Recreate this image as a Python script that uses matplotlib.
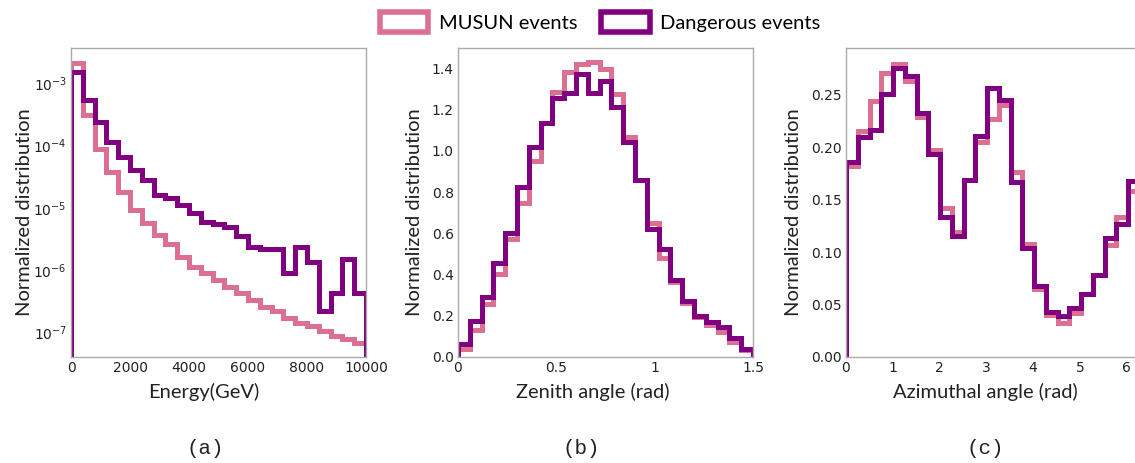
import numpy as np
import matplotlib
matplotlib.use("Agg")
import matplotlib.pyplot as plt
from matplotlib.patches import Patch

PINK = "#DB7093"
PURPLE = "#800080"

# (a) energy, 25 bins of 400 GeV
energy_edges = np.linspace(0, 10000, 26)
energy_musun = [2.1e-3, 3.1e-4, 9.0e-5, 3.8e-5, 1.83e-5, 9.3e-6, 5.7e-6, 3.7e-6,
                2.6e-6, 1.66e-6, 1.15e-6, 8.9e-7, 7.0e-7, 5.5e-7, 4.3e-7, 3.3e-7,
                2.6e-7, 2.2e-7, 1.7e-7, 1.45e-7, 1.26e-7, 1.05e-7, 8.7e-8, 7.9e-8, 6.8e-8]
energy_danger = [1.5e-3, 5.4e-4, 2.4e-4, 1.16e-4, 6.7e-5, 4.1e-5, 2.8e-5, 1.6e-5,
                 1.43e-5, 1.12e-5, 8.2e-6, 6.0e-6, 5.5e-6, 5.0e-6, 3.5e-6, 2.4e-6,
                 2.2e-6, 2.2e-6, 9.2e-7, 2.4e-6, 1.38e-6, 2.25e-7, 4.4e-7, 1.5e-6, 4.3e-7]

# (b) zenith angle, 25 bins over 0-1.5 rad
zenith_edges = np.linspace(0, 1.5, 26)
zenith_musun = [0.04, 0.13, 0.255, 0.405, 0.575, 0.75, 0.95, 1.135, 1.285, 1.385,
                1.42, 1.43, 1.40, 1.275, 1.07, 0.86, 0.65, 0.48, 0.365, 0.26,
                0.195, 0.155, 0.12, 0.075, 0.033]
zenith_danger = [0.065, 0.175, 0.29, 0.455, 0.60, 0.825, 1.02, 1.135, 1.257, 1.28,
                 1.375, 1.28, 1.34, 1.215, 1.045, 0.86, 0.62, 0.525, 0.375, 0.27,
                 0.20, 0.17, 0.145, 0.09, 0.04]

# (c) azimuthal angle, 25 bins over 0-2pi
azim_edges = np.linspace(0, 2 * np.pi, 26)
azim_musun = [0.182, 0.215, 0.244, 0.271, 0.279, 0.263, 0.229, 0.197, 0.142, 0.119,
              0.169, 0.205, 0.227, 0.240, 0.176, 0.108, 0.065, 0.040, 0.032, 0.042,
              0.060, 0.078, 0.107, 0.133, 0.158]
azim_danger = [0.186, 0.210, 0.216, 0.251, 0.276, 0.268, 0.233, 0.194, 0.133, 0.115,
               0.169, 0.211, 0.256, 0.245, 0.167, 0.104, 0.068, 0.043, 0.039, 0.047,
               0.060, 0.078, 0.113, 0.127, 0.168]

labels = ["MUSUN events", "Dangerous events"]
label_font = dict(family=["Lato", "DejaVu Sans"])

fig = plt.figure(figsize=(11.35, 4.63), dpi=100)
W, H = 1135, 463


def make_axes(left_px, width_px=295):
    return fig.add_axes([left_px / W, (H - 357) / H, width_px / W, 309 / H])


def style(ax, xlabel, xlab_x, ylab_x_px, left_px):
    for s in ax.spines.values():
        s.set_color("#aaaaaa")
        s.set_linewidth(1.0)
    ax.tick_params(length=0, labelsize=10, colors="#222222", pad=3)
    ax.set_xlabel(xlabel, fontsize=14.5, color="#222222", **label_font)
    ax.xaxis.set_label_coords(xlab_x, -26 / 309)
    ax.set_ylabel("Normalized distribution", fontsize=14.5, color="#222222", **label_font)
    ax.yaxis.set_label_coords((ylab_x_px - left_px) / 295, (357 - 212) / 309)


# (a)
ax1 = make_axes(71)
ax1.stairs(energy_musun, energy_edges, baseline=1e-9, color=PINK, lw=3.6)
ax1.stairs(energy_danger, energy_edges, baseline=1e-9, color=PURPLE, lw=3.6)
ax1.set_yscale("log")
ax1.set_xlim(0, 10000)
ax1.set_ylim(4.07e-8, 3.69e-3)
ax1.set_xticks([0, 2000, 4000, 6000, 8000, 10000])
ax1.minorticks_off()
style(ax1, "Energy(GeV)", 0.45, 33, 71)

# (b)
ax2 = make_axes(458)
ax2.stairs(zenith_musun, zenith_edges, color=PINK, lw=3.6)
ax2.stairs(zenith_danger, zenith_edges, color=PURPLE, lw=3.6)
ax2.set_xlim(0, 1.5)
ax2.set_ylim(0, 1.5)
ax2.set_xticks([0, 0.5, 1, 1.5])
ax2.set_xticklabels(["0", "0.5", "1", "1.5"])
ax2.set_yticks([0.0, 0.2, 0.4, 0.6, 0.8, 1.0, 1.2, 1.4])
style(ax2, "Zenith angle (rad)", 0.458, 423, 458)

# (c)
ax3 = make_axes(846, 294)
ax3.stairs(azim_musun, azim_edges, color=PINK, lw=3.6)
ax3.stairs(azim_danger, azim_edges, color=PURPLE, lw=3.6)
ax3.set_xlim(0, 2 * np.pi)
ax3.set_ylim(0, 0.2946)
ax3.set_xticks([0, 1, 2, 3, 4, 5, 6])
ax3.set_yticks([0.0, 0.05, 0.10, 0.15, 0.20, 0.25])
ax3.set_yticklabels(["0.00", "0.05", "0.10", "0.15", "0.20", "0.25"])
style(ax3, "Azimuthal angle (rad)", 0.473, 802, 846)

# panel captions
for x_px, cap in [(205, "(a)"), (581, "(b)"), (985, "(c)")]:
    fig.text(x_px / W, 1 - 449 / H, cap, ha="center", va="center",
             fontsize=15, family=["Liberation Mono", "DejaVu Sans Mono"], color="#222222")

handles = [Patch(facecolor="white", edgecolor=PINK, lw=4),
           Patch(facecolor="white", edgecolor=PURPLE, lw=4)]
fig.legend(handles, labels, loc="center", bbox_to_anchor=(600 / W, 1 - 22 / H), ncol=2,
           frameon=False, handlelength=2.4, handleheight=1.15, columnspacing=1.2,
           handletextpad=0.5, prop=dict(family=["Lato", "DejaVu Sans"], size=14.5))

fig.savefig("out.png", dpi=100)
